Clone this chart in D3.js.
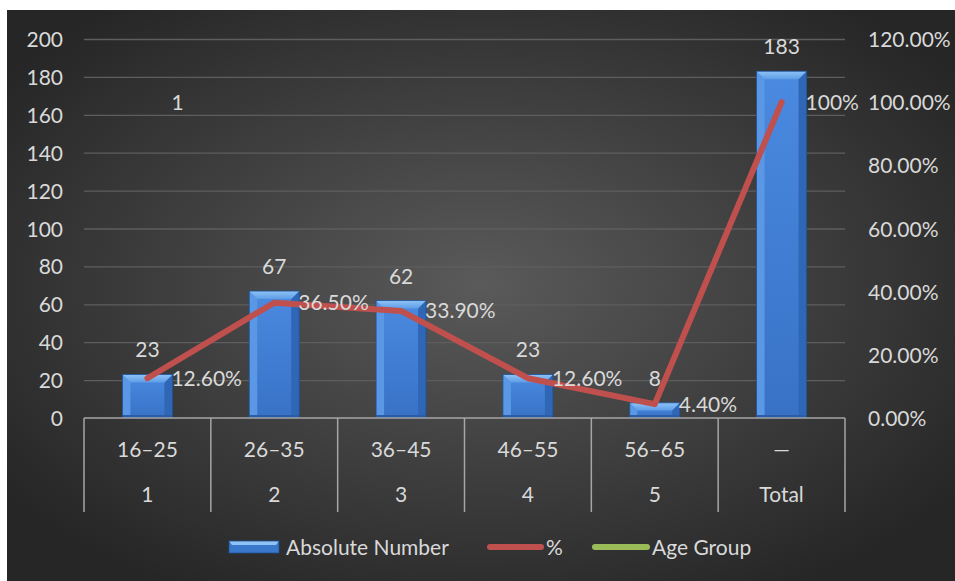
<!DOCTYPE html>
<html>
<head>
<meta charset="utf-8">
<script src="https://cdn.jsdelivr.net/npm/d3@7"></script>
<style>
  html, body { margin: 0; padding: 0; background: #fff; }
  svg { display: block; }
  text { font-family: Lato, "Open Sans", sans-serif; fill: #d9d9d9; font-size: 21px; }
</style>
</head>
<body>
<svg id="chart" width="955" height="581"></svg>
<script>
// data
let ageRanges = ["16–25", "26–35", "36–45", "46–55", "56–65", "—"];
let groupLabels = ["1", "2", "3", "4", "5", "Total"];
let absoluteNumber = [23, 67, 62, 23, 8, 183];
let percent = [12.6, 36.5, 33.9, 12.6, 4.4, 100];
let percentLabels = ["12.60%", "36.50%", "33.90%", "12.60%", "4.40%", "100%"];
let ageGroupValue = [1]; // only the first label shows inside the plot
let leftTicks = [0, 20, 40, 60, 80, 100, 120, 140, 160, 180, 200];
let rightTicks = [0, 20, 40, 60, 80, 100, 120];

let svg = d3.select('#chart');
let margin = { left: 84, right: 110, top: 39, bottom: 163 };
let width = 955, height = 581;
let plotW = width - margin.left - margin.right;

let x = d3.scaleBand().domain(d3.range(ageRanges.length))
    .range([margin.left, margin.left + plotW]).paddingInner(0).paddingOuter(0);
let y = d3.scaleLinear().domain([0, 200]).range([height - margin.bottom, margin.top]);
let y2 = d3.scaleLinear().domain([0, 120]).range(y.range());

let defs = svg.append('defs');
let bg = defs.append('radialGradient').attr('id', 'bg')
    .attr('cx', '50%').attr('cy', '48%').attr('r', '62%');
bg.append('stop').attr('offset', '0%').attr('stop-color', '#5a5a5a');
bg.append('stop').attr('offset', '100%').attr('stop-color', '#262626');

let face = defs.append('linearGradient').attr('id', 'face').attr('x1', 0).attr('x2', 0).attr('y1', 0).attr('y2', 1);
face.append('stop').attr('offset', '0%').attr('stop-color', '#4a8ae0');
face.append('stop').attr('offset', '100%').attr('stop-color', '#3872c6');
let topBev = defs.append('linearGradient').attr('id', 'topBev').attr('x1', 0).attr('x2', 0).attr('y1', 0).attr('y2', 1);
topBev.append('stop').attr('offset', '0%').attr('stop-color', '#8fc3f6');
topBev.append('stop').attr('offset', '100%').attr('stop-color', '#5d9de6');

// background panel
svg.append('rect').attr('x', 7).attr('y', 10).attr('width', width - 7).attr('height', height - 10)
    .attr('fill', 'url(#bg)');

// gridlines
svg.append('g').selectAll('line').data(leftTicks.slice(1)).enter().append('line')
    .attr('x1', margin.left).attr('x2', margin.left + plotW)
    .attr('y1', d => y(d) + 0.5).attr('y2', d => y(d) + 0.5)
    .attr('stroke', '#5e5e5e').attr('stroke-width', 1.3);

// left axis
let leftAxis = svg.append('g').attr('transform', 'translate(' + (margin.left - 21) + ',0)')
    .call(d3.axisLeft(y).tickValues(leftTicks).tickSize(0).tickPadding(0));
leftAxis.select('.domain').remove();
leftAxis.selectAll('text').style('font-size', '21px').attr('fill', '#d9d9d9').attr('dy', '0.36em');

// right axis
let rightAxis = svg.append('g').attr('transform', 'translate(' + (margin.left + plotW + 23) + ',0)')
    .call(d3.axisRight(y2).tickValues(rightTicks).tickSize(0).tickPadding(0)
        .tickFormat(d => d.toFixed(2) + '%'));
rightAxis.select('.domain').remove();
rightAxis.selectAll('text').style('font-size', '21px').attr('fill', '#d9d9d9').attr('dy', '0.36em');

// bars with bevel
let barW = 50, bev = 8;
let bars = svg.append('g').selectAll('g').data(absoluteNumber).enter().append('g');
bars.each(function (d, i) {
    let g = d3.select(this);
    let x0 = x(i) + x.bandwidth() / 2 - barW / 2, x1 = x0 + barW;
    let y0 = y(d), y1 = y(0);
    let b = Math.min(bev, (y1 - y0) / 2);
    g.append('rect').attr('x', x0).attr('y', y0).attr('width', barW).attr('height', y1 - y0).attr('fill', 'url(#face)');
    g.append('polygon').attr('points', [[x0, y0], [x0 + b, y0 + b], [x0 + b, y1], [x0, y1]].join(' ')).attr('fill', '#5a97e4');
    g.append('polygon').attr('points', [[x1, y0], [x1 - b, y0 + b], [x1 - b, y1], [x1, y1]].join(' ')).attr('fill', '#2f66b6');
    g.append('polygon').attr('points', [[x0, y0], [x1, y0], [x1 - b, y0 + b], [x0 + b, y0 + b]].join(' ')).attr('fill', 'url(#topBev)');
    g.append('rect').attr('x', x0).attr('y', y1 - 3).attr('width', barW).attr('height', 3).attr('fill', '#2a5da6');
    g.append('rect').attr('x', x0).attr('y', y0).attr('width', barW).attr('height', y1 - y0)
        .attr('fill', 'none').attr('stroke', '#1f4f92').attr('stroke-width', 0.8);
});

// bar labels
svg.append('g').selectAll('text').data(absoluteNumber).enter().append('text')
    .attr('x', (d, i) => x(i) + x.bandwidth() / 2)
    .attr('y', d => y(d) - 17)
    .attr('text-anchor', 'middle')
    .text(d => d);

// percent line
let line = d3.line().x((d, i) => x(i) + x.bandwidth() / 2).y(d => y2(d));
svg.append('path').datum(percent).attr('d', line)
    .attr('fill', 'none').attr('stroke', '#c0504d').attr('stroke-width', 6)
    .attr('stroke-linejoin', 'round').attr('stroke-linecap', 'round');

// percent labels
svg.append('g').selectAll('text').data(percent).enter().append('text')
    .attr('x', (d, i) => x(i) + x.bandwidth() / 2 + 24)
    .attr('y', d => y2(d))
    .attr('dy', '0.36em')
    .text((d, i) => percentLabels[i]);

// age group label (value 1 = 100% on secondary axis)
svg.append('g').selectAll('text').data(ageGroupValue).enter().append('text')
    .attr('x', (d, i) => x(i) + x.bandwidth() / 2 + 24)
    .attr('y', d => y2(d * 100))
    .attr('dy', '0.36em')
    .text(d => d);

// category axis (two levels)
let axisY = y(0);
svg.append('line').attr('x1', margin.left).attr('x2', margin.left + plotW)
    .attr('y1', axisY).attr('y2', axisY).attr('stroke', '#a6a6a6').attr('stroke-width', 1.5);
let dividers = d3.range(ageRanges.length + 1).map(i => i < ageRanges.length ? x(i) : x(i - 1) + x.bandwidth());
svg.append('g').selectAll('line').data(dividers).enter().append('line')
    .attr('x1', d => d).attr('x2', d => d).attr('y1', axisY).attr('y2', axisY + 94)
    .attr('stroke', '#a6a6a6').attr('stroke-width', 1.5);
svg.append('g').selectAll('text').data(ageRanges).enter().append('text')
    .attr('x', (d, i) => x(i) + x.bandwidth() / 2).attr('y', axisY + 39)
    .attr('text-anchor', 'middle').text(d => d);
svg.append('g').selectAll('text').data(groupLabels).enter().append('text')
    .attr('x', (d, i) => x(i) + x.bandwidth() / 2).attr('y', axisY + 84)
    .attr('text-anchor', 'middle').text(d => d);

// legend
let legY = 547;
let leg = svg.append('g');
leg.append('rect').attr('x', 229).attr('y', legY - 6).attr('width', 50).attr('height', 12).attr('fill', '#3a78cc');
leg.append('polygon').attr('points', [[229, legY - 6], [279, legY - 6], [276, legY - 2], [232, legY - 2]].join(' ')).attr('fill', '#8fc3f6');
leg.append('rect').attr('x', 229).attr('y', legY - 6).attr('width', 50).attr('height', 12).attr('fill', 'none').attr('stroke', '#1f4f92').attr('stroke-width', 0.8);
leg.append('text').attr('x', 286).attr('y', legY).attr('dy', '0.36em').text('Absolute Number');
leg.append('line').attr('x1', 490).attr('x2', 541).attr('y1', legY).attr('y2', legY)
    .attr('stroke', '#c0504d').attr('stroke-width', 6).attr('stroke-linecap', 'round');
leg.append('text').attr('x', 546).attr('y', legY).attr('dy', '0.36em').text('%');
leg.append('line').attr('x1', 595).attr('x2', 647).attr('y1', legY).attr('y2', legY)
    .attr('stroke', '#9bbb59').attr('stroke-width', 6).attr('stroke-linecap', 'round');
leg.append('text').attr('x', 652).attr('y', legY).attr('dy', '0.36em').text('Age Group');
</script>
</body>
</html>
